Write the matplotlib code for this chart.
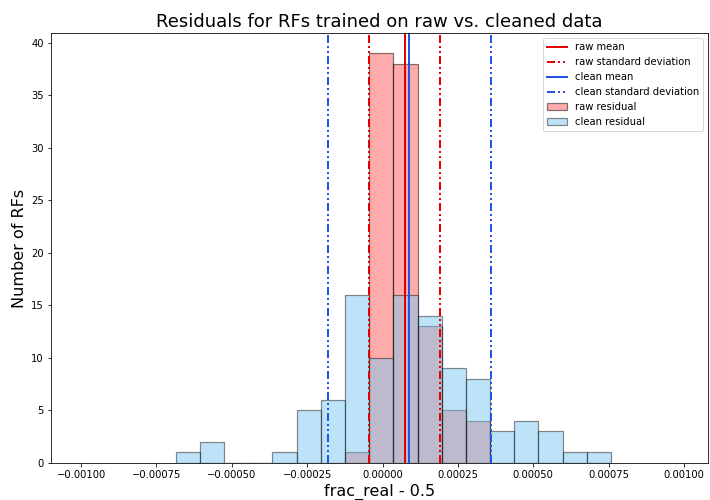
import numpy as np
import matplotlib
matplotlib.use("Agg")
import matplotlib.pyplot as plt
from matplotlib.ticker import FuncFormatter

# histogram bins shared by both series
bin_lo = -0.000686
bin_hi = 0.000758
n_bins = 18

clean_counts = [1, 2, 0, 0, 1, 5, 6, 16, 10, 16, 14, 9, 8, 3, 4, 3, 1, 1]
raw_counts = [0, 0, 0, 0, 0, 0, 0, 1, 39, 38, 13, 5, 4, 0, 0, 0, 0, 0]

raw_mean = 0.0000745
raw_std_lo = -0.0000433
raw_std_hi = 0.000190
clean_mean = 0.0000867
clean_std_lo = -0.000182
clean_std_hi = 0.000359

xticks = [-0.001, -0.00075, -0.0005, -0.00025, 0.0, 0.00025, 0.0005, 0.00075, 0.001]

edges = np.linspace(bin_lo, bin_hi, n_bins + 1)
centers = (edges[:-1] + edges[1:]) / 2

fig = plt.figure(figsize=(710 / 72, 500 / 72), dpi=72)
ax = fig.add_axes([51 / 710, 1 - 463 / 500, 657 / 710, 430 / 500])

red = "#e60000"
blue = "#1f55e8"
dashdotdot = (0, (4, 1.5, 1, 1.5, 1, 1.5))

ax.axvline(raw_mean, color=red, lw=2, label="raw mean")
ax.axvline(raw_std_lo, color=red, lw=2, ls=dashdotdot, label="raw standard deviation")
ax.axvline(raw_std_hi, color=red, lw=2, ls=dashdotdot)
ax.axvline(clean_mean, color=blue, lw=2, label="clean mean")
ax.axvline(clean_std_lo, color=blue, lw=2, ls=dashdotdot, label="clean standard deviation")
ax.axvline(clean_std_hi, color=blue, lw=2, ls=dashdotdot)

ax.hist(centers, bins=edges, weights=raw_counts,
        facecolor=(1.0, 0.0, 0.0, 0.33), edgecolor=(0, 0, 0, 0.5), lw=1.2,
        label="raw residual")
ax.hist(centers, bins=edges, weights=clean_counts,
        facecolor=(0.49, 0.79, 0.95, 0.5), edgecolor=(0, 0, 0, 0.45), lw=1.2,
        label="clean residual")

ax.set_xlim(-0.0011, 0.00108)
ax.set_ylim(0, 40.95)
ax.set_xticks(xticks)
ax.xaxis.set_major_formatter(FuncFormatter(lambda v, p: f"{v:.5f}".replace("-", "\u2212")))
ax.tick_params(labelsize=10)

ax.set_title("Residuals for RFs trained on raw vs. cleaned data", fontsize=18)
ax.set_xlabel("frac_real - 0.5", fontsize=16)
ax.set_ylabel("Number of RFs", fontsize=16)

ax.legend(loc="upper right", fontsize=10)

fig.savefig("out.png", dpi=72)
